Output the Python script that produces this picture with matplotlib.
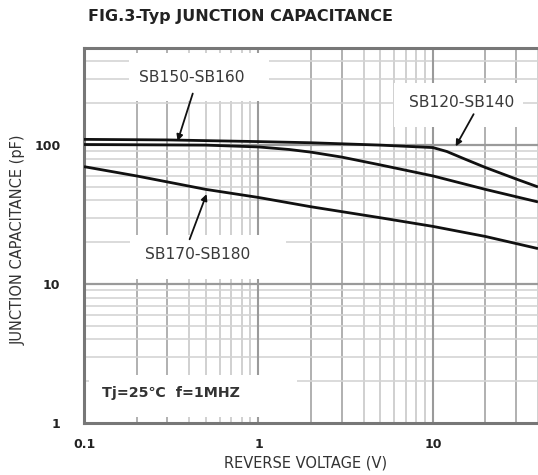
import matplotlib
matplotlib.use("Agg")
import matplotlib.pyplot as plt
from matplotlib.patches import Rectangle

# ---- data ----
v_120_140 = [0.1, 0.3, 1, 2, 5, 10, 12, 15, 20, 30, 40]
c_120_140 = [110, 109, 106, 104, 100, 96, 90, 80, 69, 57, 50]

v_150_160 = [0.1, 0.5, 1, 1.5, 2, 3, 5, 10, 20, 40]
c_150_160 = [101, 100, 97, 93, 89, 82, 72, 60, 48, 39]

v_170_180 = [0.1, 0.2, 0.5, 1, 2, 5, 10, 20, 40]
c_170_180 = [70, 60, 48, 42, 36, 30, 26, 22, 18]

x_major = [0.1, 1, 10]
x_tick_labels = ["0.1", "1", "10"]
y_major = [1, 10, 100]
y_tick_labels = ["1", "10", "100"]
minor_mult = [2, 3, 4, 5, 6, 7, 8, 9]

title = "FIG.3-Typ JUNCTION CAPACITANCE"
xlabel = "REVERSE VOLTAGE (V)"
ylabel = "JUNCTION CAPACITANCE (pF)"

plt.rcParams['font.family'] = ['DejaVu Sans']

fig = plt.figure(figsize=(5.38, 4.75), dpi=100)
ax = fig.add_axes([84/538, 1-423/475, (538-84)/538, 375/475])
ax.set_xscale('log')
ax.set_yscale('log')
ax.set_xlim(0.1, 40)
ax.set_ylim(1, 500)

# grid
for d in [0.1, 1, 10]:
    for m in minor_mult:
        xv = d * m
        if xv > 40:
            continue
        col = '#aaaaaa' if m in (2, 3) else '#cdcdcd'
        ax.axvline(xv, color=col, lw=1.3, zorder=1)
for d in [1, 10, 100]:
    for m in minor_mult:
        yv = d * m
        if yv > 500:
            continue
        ax.axhline(yv, color='#d4d4d4', lw=1.2, zorder=1)
for xv in x_major[1:]:
    ax.axvline(xv, color='#9a9a9a', lw=1.5, zorder=1)
for yv in y_major[1:]:
    ax.axhline(yv, color='#9a9a9a', lw=1.6, zorder=1)

# white label boxes (axes fraction)
boxes = [(0.099, 0.859, 0.309, 0.128),
         (0.682, 0.789, 0.285, 0.118),
         (0.102, 0.384, 0.342, 0.117),
         (0.011, 0.016, 0.459, 0.112)]
for bx, by, bw, bh in boxes:
    ax.add_patch(Rectangle((bx, by), bw, bh, transform=ax.transAxes,
                           facecolor='white', edgecolor='none', zorder=2))

# curves
for vx, cy in [(v_120_140, c_120_140), (v_150_160, c_150_160), (v_170_180, c_170_180)]:
    ax.plot(vx, cy, color='#111111', lw=2.0, zorder=3, solid_capstyle='butt')

# annotations
ap = dict(arrowstyle='-|>', color='#111111', lw=1.3, mutation_scale=9,
          shrinkA=0, shrinkB=0)
lab_font = dict(fontsize=11.2, color='#3a3a3a', ha='center', va='center', zorder=4)
ax.text(0.414, 308, "SB150-SB160", **lab_font)
ax.annotate("", xy=(0.344, 107), xytext=(0.42, 235), arrowprops=ap, zorder=4)
ax.text(14.6, 204, "SB120-SB140", **lab_font)
ax.annotate("", xy=(13.5, 98), xytext=(17.1, 167), arrowprops=ap, zorder=4)
ax.text(0.448, 16.2, "SB170-SB180", **lab_font)
ax.annotate("", xy=(0.504, 44.4), xytext=(0.403, 21), arrowprops=ap, zorder=4)
ax.text(0.127, 1.64, "Tj=25\u2103  f=1MHZ", fontsize=10.3, fontweight='bold',
        color='#333333', ha='left', va='center', zorder=4)

# ticks
ax.set_xticks(x_major)
ax.set_xticklabels(x_tick_labels, fontsize=9, fontweight='bold', color='#222222')
ax.set_yticks(y_major)
ax.set_yticklabels(y_tick_labels, fontsize=9, fontweight='bold', color='#222222')
ax.xaxis.set_minor_locator(matplotlib.ticker.NullLocator())
ax.yaxis.set_minor_locator(matplotlib.ticker.NullLocator())
ax.tick_params(axis='x', length=0, pad=11)
ax.tick_params(axis='y', length=0, pad=17)

for s in ['left', 'bottom', 'top']:
    ax.spines[s].set_color('#777777')
    ax.spines[s].set_linewidth(2.2)
ax.spines['right'].set_visible(False)

fig.text(88/538, 1-17/475, title, fontsize=11.5, fontweight='bold',
         color='#222222', ha='left', va='center')
fig.text(306/538, 1-463/475, xlabel, fontsize=10.5, color='#333333',
         ha='center', va='center')
fig.text(18/538, 1-240/475, ylabel, fontsize=10.5, color='#333333',
         ha='center', va='center', rotation=90)

fig.savefig("out.png", dpi=100)
